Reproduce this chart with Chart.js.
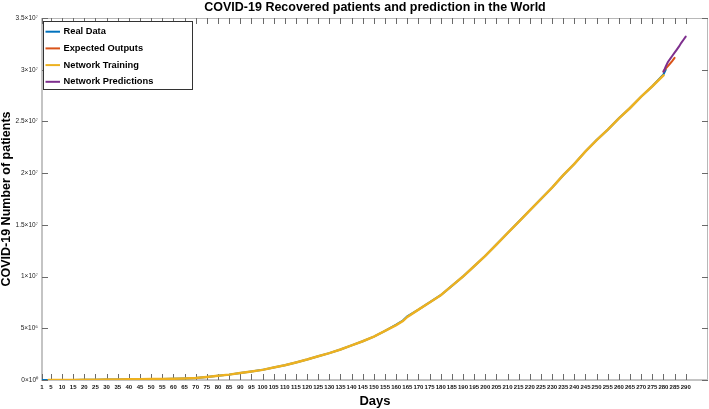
<!DOCTYPE html>
<html>
<head>
<meta charset="utf-8">
<script src="https://cdn.jsdelivr.net/npm/chart.js@4/dist/chart.umd.min.js"></script>
<style>
html,body{margin:0;padding:0;background:#fff;}
#wrap{width:709px;height:409px;}
</style>
</head>
<body>
<div id="wrap"><canvas id="c" width="709" height="409"></canvas></div>
<script>
// ---- data (values in millions of patients) ----
const realDays = [1,5,10,15,20,25,30,35,40,45,50,55,60,65,70,75,80,85,90,95,100,105,110,115,120,125,130,135,140,145,150,155,160,163,165,170,175,180,185,190,195,200,205,210,215,220,225,230,235,240,245,250,255,260,265,270,275,280,281];
const realValues = [0,0,0.002,0.01,0.02,0.03,0.04,0.055,0.07,0.08,0.09,0.10,0.12,0.15,0.2,0.3,0.4,0.52,0.68,0.83,0.98,1.2,1.42,1.7,1.98,2.3,2.6,2.95,3.35,3.75,4.2,4.75,5.35,5.75,6.15,6.8,7.5,8.2,9.1,10.0,11.0,12.0,13.1,14.2,15.3,16.4,17.5,18.6,19.8,20.9,22.1,23.2,24.2,25.3,26.3,27.4,28.4,29.55,30.0];

const trainDays = [4,10,15,20,25,30,35,40,45,50,55,60,65,70,75,80,85,90,95,100,105,110,115,120,125,130,135,140,145,150,155,160,163,165,170,175,180,185,190,195,200,205,210,215,220,225,230,235,240,245,250,255,260,265,270,275,280];
const trainValues = [0,0.002,0.01,0.02,0.03,0.04,0.055,0.07,0.08,0.09,0.10,0.12,0.15,0.2,0.3,0.4,0.52,0.68,0.83,0.98,1.2,1.42,1.7,1.98,2.3,2.6,2.95,3.35,3.75,4.2,4.75,5.3,5.7,6.1,6.8,7.5,8.2,9.1,10.0,11.0,12.0,13.1,14.2,15.3,16.4,17.5,18.6,19.8,20.9,22.1,23.2,24.2,25.3,26.3,27.4,28.4,29.45];

const expectedDays = [280,281,282,283,284,285];
const expectedValues = [29.85,30.1,30.35,30.6,30.85,31.15];

const predDays = [280,281,282,283,284,285,286,287,288,289,290];
const predValues = [29.8,30.3,30.75,31.05,31.35,31.65,31.95,32.25,32.6,32.9,33.2];

const seriesNames = ['Real Data','Expected Outputs','Network Training','Network Predictions'];
const seriesColors = ['#0072BD','#D95319','#EDB120','#7E2F8E'];

const xTickValues = [1,5,10,15,20,25,30,35,40,45,50,55,60,65,70,75,80,85,90,95,100,105,110,115,120,125,130,135,140,145,150,155,160,165,170,175,180,185,190,195,200,205,210,215,220,225,230,235,240,245,250,255,260,265,270,275,280,285,290];
const yTickValues = [0,5e6,1e7,1.5e7,2e7,2.5e7,3e7,3.5e7];
const yTickLabels = ['0\u00d710\u2070','5\u00d710\u2076','1\u00d710\u2077','1.5\u00d710\u2077','2\u00d710\u2077','2.5\u00d710\u2077','3\u00d710\u2077','3.5\u00d710\u2077'];

const titleText = 'COVID-19 Recovered patients and prediction in the World';
const xTitle = 'Days';
const yTitle = 'COVID-19 Number of patients';

function pts(days, vals){ return days.map((d,i)=>({x:d, y:vals[i]*1e6})); }

const FONT = '"Liberation Sans", Arial, Helvetica, sans-serif';

const frameAndTicks = {
  id:'frameAndTicks',
  beforeDatasetsDraw(chart){
    const ctx = chart.ctx, a = chart.chartArea;
    const xs = chart.scales.x, ys = chart.scales.y;
    ctx.save();
    // frame
    ctx.strokeStyle = '#b8b8b8';
    ctx.lineWidth = 1;
    ctx.strokeRect(a.left+0.5, a.top+0.5, a.right-a.left-1, a.bottom-a.top-1);
    ctx.strokeStyle = '#c4c4c4';
    ctx.lineWidth = 2;
    ctx.beginPath();
    ctx.moveTo(a.left, a.top); ctx.lineTo(a.left, a.bottom); ctx.lineTo(a.right, a.bottom);
    ctx.stroke();
    // inner ticks
    ctx.strokeStyle = '#6a6a6a';
    ctx.lineWidth = 1;
    ctx.beginPath();
    xs.ticks.forEach(t=>{
      const px = Math.round(xs.getPixelForValue(t.value))+0.5;
      ctx.moveTo(px, a.bottom); ctx.lineTo(px, a.bottom-6);
      ctx.moveTo(px, a.top); ctx.lineTo(px, a.top+6);
    });
    ys.ticks.forEach(t=>{
      const py = Math.round(ys.getPixelForValue(t.value))+0.5;
      ctx.moveTo(a.left, py); ctx.lineTo(a.left+6, py);
      ctx.moveTo(a.right, py); ctx.lineTo(a.right-6, py);
    });
    ctx.stroke();
    ctx.restore();
  },
  afterDatasetsDraw(chart){
    const ctx = chart.ctx, a = chart.chartArea;
    ctx.save();
    // legend box
    const lx = 43.5, ly = 21.5, lw = 149, lh = 68;
    ctx.fillStyle = '#fff';
    ctx.fillRect(lx, ly, lw, lh);
    ctx.strokeStyle = '#333';
    ctx.lineWidth = 1;
    ctx.strokeRect(lx, ly, lw, lh);
    chart.data.datasets.forEach((ds,i)=>{
      const y = 31.7 + i*16.7;
      ctx.strokeStyle = ds.borderColor;
      ctx.lineWidth = 2;
      ctx.beginPath(); ctx.moveTo(45.5, y); ctx.lineTo(60, y); ctx.stroke();
      ctx.fillStyle = '#000';
      ctx.font = 'bold 9.3px ' + FONT;
      ctx.textBaseline = 'middle';
      ctx.textAlign = 'left';
      ctx.fillText(ds.label, 63.5, y);
    });
    // main title
    ctx.fillStyle = '#000';
    ctx.font = 'bold 12.5px ' + FONT;
    ctx.textAlign = 'center';
    ctx.textBaseline = 'alphabetic';
    ctx.fillText(titleText, (a.left+a.right)/2, 10.5);
    ctx.restore();
  }
};

new Chart(document.getElementById('c'), {
  type:'line',
  data:{
    datasets:[
      {label:seriesNames[0], data:pts(realDays, realValues), borderColor:seriesColors[0], borderWidth:2, order:4},
      {label:seriesNames[1], data:pts(expectedDays, expectedValues), borderColor:seriesColors[1], borderWidth:2, order:3},
      {label:seriesNames[2], data:pts(trainDays, trainValues), borderColor:seriesColors[2], borderWidth:2.5, order:2},
      {label:seriesNames[3], data:pts(predDays, predValues), borderColor:seriesColors[3], borderWidth:2, order:1}
    ]
  },
  options:{
    responsive:false,
    animation:false,
    devicePixelRatio:1,
    elements:{point:{radius:0}, line:{tension:0, borderCapStyle:'round'}},
    layout:{padding:{top:18,right:1,left:0,bottom:0}},
    plugins:{legend:{display:false}, title:{display:false}, tooltip:{enabled:false}},
    scales:{
      x:{
        type:'linear', min:1, max:300,
        afterBuildTicks(s){ s.ticks = xTickValues.map(v=>({value:v})); },
        afterFit(s){ s.height = 29; },
        grid:{display:false, drawTicks:false},
        border:{display:false},
        ticks:{autoSkip:false, maxRotation:0, minRotation:0, padding:4, color:'#111',
               font:{family:FONT, size:6, weight:'bold'},
               callback:(v)=>String(v)},
        title:{display:true, text:xTitle, color:'#000', padding:{top:0,bottom:1},
               font:{family:FONT, size:13, weight:'bold', lineHeight:1}}
      },
      y:{
        type:'linear', min:0, max:3.5e7,
        afterBuildTicks(s){ s.ticks = yTickValues.map(v=>({value:v})); },
        afterFit(s){ s.width = 42; },
        grid:{display:false, drawTicks:false},
        border:{display:false},
        ticks:{padding:4, color:'#222', font:{family:FONT, size:6.5},
               callback:(v)=>{ const i = yTickValues.indexOf(v); return i>=0 ? yTickLabels[i] : ''; }},
        title:{display:true, text:yTitle, color:'#000', padding:{top:0,bottom:0},
               font:{family:FONT, size:12.5, weight:'bold', lineHeight:1}}
      }
    }
  },
  plugins:[frameAndTicks]
});
</script>
</body>
</html>
